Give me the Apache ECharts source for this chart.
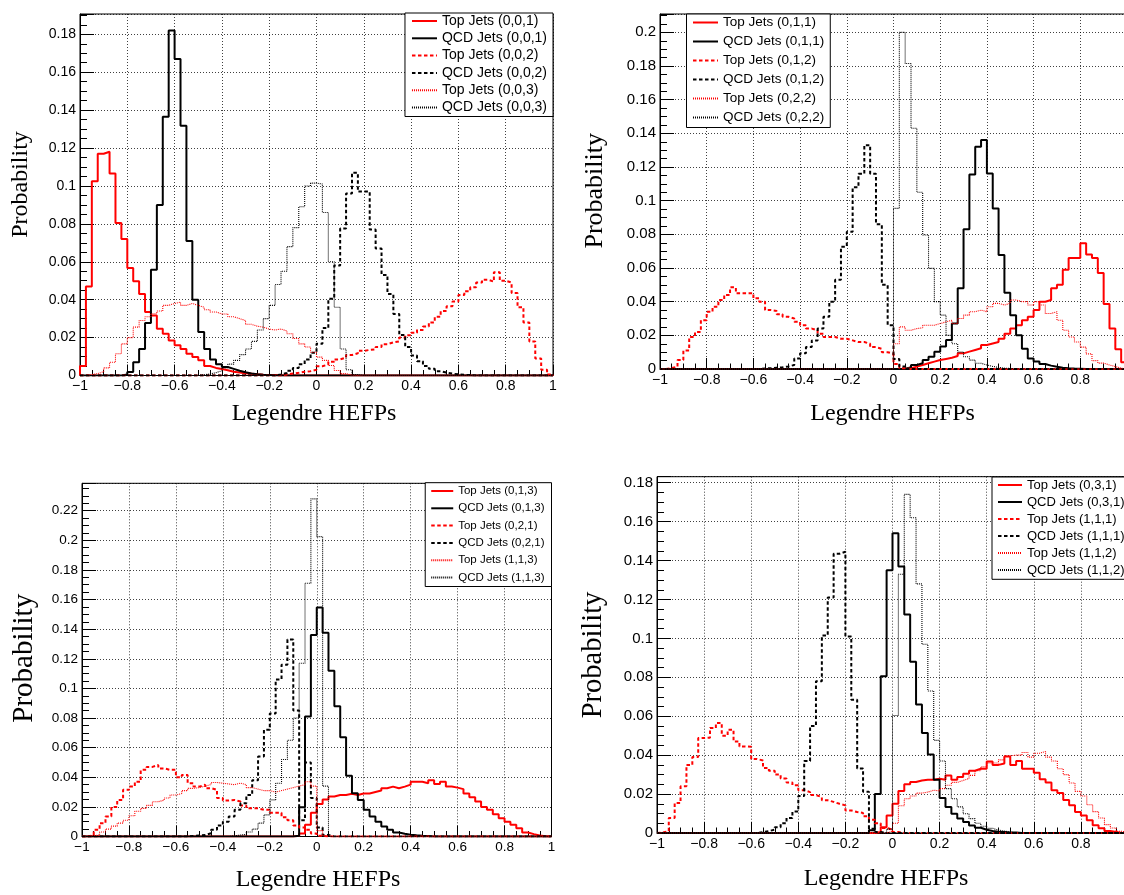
<!DOCTYPE html>
<html><head><meta charset="utf-8">
<script src="https://cdn.jsdelivr.net/npm/echarts@6/dist/echarts.min.js"></script>
<style>html,body{margin:0;padding:0;background:#fff}#c{width:1124px;height:895px}</style>
</head><body><div id="c"></div>
<script>
// ---------- binning (x categories) ----------
const BIN_MIN = -1, BIN_WIDTH = 0.025, N_BINS = 80;
const X_MIN = -1, X_MAX = 1, X_STEP = 0.2, Y_STEP = 0.02;
function hist(firstBin, values) { // empty bins of the histogram are 0
  const h = new Array(N_BINS).fill(0);
  values.forEach((v, i) => { h[firstBin + i] = v; });
  return h;
}
// ---------- panel 1 ----------
const P1_NAMES = ['Top Jets (0,0,1)','QCD Jets (0,0,1)','Top Jets (0,0,2)','QCD Jets (0,0,2)','Top Jets (0,0,3)','QCD Jets (0,0,3)'];
const P1_TOP_001 = hist(0, [0.005,0.047,0.1025,0.117,0.118,0.1065,0.0805,0.072,0.0567,0.0497,0.043,0.0335,0.0317,0.0247,0.022,0.0185,0.016,0.014,0.0115,0.0097,0.008,0.005,0.004,0.0034,0.0028,0.002,0.0016,0.0012,0.0009,0.0006,0.0004,0.0003,0.0002,0.0001]);
const P1_QCD_001 = hist(7, [0.0005,0.0018,0.007,0.014,0.0277,0.0558,0.090,0.1365,0.182,0.167,0.1317,0.071,0.040,0.023,0.014,0.0085,0.006,0.0045,0.0035,0.0025,0.0017,0.0011,0.0007,0.0004,0.0002]);
const P1_TOP_002 = hist(34, [0.0005,0.001,0.0014,0.002,0.0023,0.003,0.0049,0.0058,0.0072,0.0085,0.0094,0.0108,0.0117,0.013,0.0135,0.0138,0.015,0.0165,0.0175,0.018,0.020,0.0212,0.0225,0.024,0.0258,0.028,0.031,0.034,0.0365,0.039,0.0425,0.0445,0.0465,0.049,0.0505,0.0495,0.0545,0.050,0.049,0.0435,0.036,0.028,0.018,0.009,0.003,0.0005]);
const P1_QCD_002 = hist(33, [0.0005,0.0013,0.0025,0.004,0.006,0.0085,0.012,0.0167,0.025,0.0405,0.058,0.0775,0.096,0.107,0.097,0.097,0.077,0.067,0.053,0.043,0.0325,0.0213,0.015,0.0105,0.0075,0.005,0.0035,0.0023,0.0015,0.001,0.0006,0.0004,0.0002]);
const P1_TOP_003 = hist(1, [0.0005,0.001,0.002,0.004,0.007,0.0115,0.0167,0.020,0.0255,0.029,0.031,0.0326,0.034,0.037,0.038,0.0387,0.037,0.038,0.037,0.036,0.0347,0.0335,0.0325,0.0324,0.031,0.030,0.029,0.027,0.026,0.0255,0.0245,0.024,0.0245,0.0235,0.022,0.0195,0.0167,0.015,0.0123,0.0097,0.008,0.0053,0.0026,0.001,0.0003]);
const P1_QCD_003 = hist(20, [0.0004,0.0008,0.0015,0.0025,0.004,0.006,0.008,0.011,0.014,0.018,0.024,0.03,0.037,0.048,0.055,0.068,0.078,0.089,0.1,0.1015,0.101,0.086,0.06,0.036,0.014,0.003,0.0005]);
// ---------- panel 2 ----------
const P2_NAMES = ['Top Jets (0,1,1)','QCD Jets (0,1,1)','Top Jets (0,1,2)','QCD Jets (0,1,2)','Top Jets (0,2,2)','QCD Jets (0,2,2)'];
const P2_TOP_011 = hist(41, [0.0002,0.0005,0.0014,0.0024,0.0034,0.0044,0.0053,0.006,0.0067,0.0077,0.0093,0.0103,0.0113,0.0123,0.0143,0.0152,0.016,0.018,0.021,0.024,0.026,0.029,0.031,0.035,0.040,0.041,0.048,0.050,0.059,0.066,0.066,0.0747,0.068,0.066,0.057,0.0386,0.024,0.0117,0.004]);
const P2_QCD_011 = hist(42, [0.001,0.0024,0.0034,0.0053,0.0073,0.0103,0.0133,0.0172,0.027,0.048,0.083,0.1156,0.132,0.136,0.1162,0.0954,0.0677,0.0453,0.032,0.020,0.012,0.0063,0.0044,0.003,0.002,0.0013,0.0008,0.0005,0.0003,0.0002]);
const P2_TOP_012 = hist(1, [0.0005,0.0014,0.0053,0.011,0.019,0.022,0.029,0.034,0.037,0.041,0.044,0.0485,0.045,0.045,0.045,0.042,0.040,0.035,0.0345,0.0325,0.031,0.030,0.028,0.026,0.024,0.023,0.021,0.019,0.019,0.018,0.018,0.017,0.016,0.016,0.015,0.013,0.012,0.010,0.009,0.003,0.0005]);
const P2_QCD_012 = hist(17, [0.0003,0.0005,0.0008,0.001,0.0015,0.0024,0.0063,0.0093,0.013,0.017,0.024,0.031,0.040,0.053,0.0727,0.0816,0.108,0.116,0.133,0.116,0.086,0.05,0.026,0.006,0.0015]);
const P2_TOP_022 = hist(40, [0.015,0.025,0.023,0.024,0.0245,0.026,0.026,0.027,0.028,0.029,0.027,0.030,0.032,0.034,0.035,0.034,0.037,0.039,0.038,0.039,0.041,0.040,0.040,0.038,0.040,0.038,0.033,0.034,0.029,0.023,0.019,0.016,0.013,0.009,0.005,0.0035,0.0024,0.0014,0.0005]);
const P2_QCD_022 = hist(40, [0.0954,0.2,0.1815,0.143,0.105,0.0796,0.0598,0.040,0.032,0.020,0.015,0.010,0.0073,0.0053,0.0034,0.0024,0.0015,0.001,0.0005,0.0003]);
// ---------- panel 3 ----------
const P3_NAMES = ['Top Jets (0,1,3)','QCD Jets (0,1,3)','Top Jets (0,2,1)','QCD Jets (0,2,1)','Top Jets (1,1,3)','QCD Jets (1,1,3)'];
const P3_TOP_013 = hist(36, [0.0005,0.002,0.008,0.016,0.022,0.025,0.027,0.028,0.028,0.0288,0.028,0.029,0.029,0.030,0.031,0.0326,0.0337,0.0326,0.0337,0.035,0.037,0.037,0.036,0.038,0.0355,0.037,0.0337,0.033,0.032,0.029,0.0265,0.0236,0.020,0.018,0.015,0.0124,0.010,0.0079,0.0056,0.0027,0.0016,0.0007,0.0002]);
const P3_QCD_013 = hist(36, [0.0005,0.0198,0.081,0.136,0.1546,0.1375,0.112,0.088,0.067,0.041,0.0292,0.0247,0.018,0.0135,0.010,0.0067,0.0045,0.0027,0.0018,0.0012,0.0008,0.0005,0.0003]);
const P3_TOP_021 = hist(1, [0.001,0.0045,0.009,0.0135,0.020,0.0247,0.0315,0.0337,0.037,0.045,0.047,0.0483,0.046,0.045,0.045,0.040,0.0416,0.036,0.0337,0.035,0.0326,0.0315,0.026,0.0243,0.0247,0.0236,0.021,0.019,0.019,0.018,0.018,0.016,0.016,0.013,0.011,0.0075,0.006,0.0045,0.002,0.0005]);
const P3_QCD_021 = hist(18, [0.0004,0.0007,0.001,0.0022,0.0045,0.0075,0.010,0.0135,0.018,0.0225,0.028,0.038,0.054,0.072,0.083,0.106,0.116,0.133,0.085,0.011,0.05,0.026,0.006,0.001]);
const P3_TOP_113 = hist(1, [0.0005,0.001,0.003,0.005,0.007,0.009,0.011,0.014,0.017,0.019,0.021,0.0235,0.0245,0.026,0.028,0.029,0.031,0.0325,0.033,0.034,0.035,0.0365,0.036,0.0355,0.035,0.036,0.035,0.033,0.032,0.031,0.031,0.030,0.031,0.032,0.033,0.034,0.035,0.037,0.034,0.004,0.0005]);
const P3_QCD_113 = hist(25, [0.0005,0.001,0.0015,0.003,0.005,0.009,0.0146,0.0247,0.036,0.052,0.065,0.08,0.117,0.171,0.228,0.2025,0.034]);
// ---------- panel 4 ----------
const P4_NAMES = ['Top Jets (0,3,1)','QCD Jets (0,3,1)','Top Jets (1,1,1)','QCD Jets (1,1,1)','Top Jets (1,1,2)','QCD Jets (1,1,2)'];
const P4_TOP_031 = hist(37, [0.0005,0.003,0.009,0.015,0.0216,0.025,0.0262,0.027,0.0274,0.0274,0.0279,0.0274,0.0296,0.0274,0.0288,0.0305,0.032,0.033,0.033,0.0367,0.035,0.0357,0.0393,0.035,0.037,0.033,0.033,0.031,0.0276,0.026,0.022,0.0205,0.017,0.0142,0.0108,0.009,0.0066,0.004,0.0025,0.001,0.0005]);
const P4_QCD_031 = hist(36, [0.0014,0.02,0.0805,0.135,0.154,0.137,0.1123,0.088,0.066,0.0514,0.0404,0.0274,0.018,0.0134,0.0099,0.0074,0.0056,0.0039,0.0027,0.0017,0.001,0.0007,0.0005,0.0003,0.0002]);
const P4_TOP_111 = hist(0, [0.0002,0.0009,0.0077,0.0154,0.024,0.035,0.039,0.0488,0.049,0.054,0.0565,0.050,0.053,0.047,0.0445,0.0443,0.038,0.0373,0.0334,0.032,0.030,0.028,0.026,0.0246,0.022,0.021,0.0195,0.0185,0.0168,0.016,0.015,0.0142,0.0116,0.0108,0.0103,0.0086,0.0068,0.005,0.0026,0.0017,0.0005]);
const P4_QCD_111 = hist(17, [0.0005,0.001,0.0017,0.003,0.005,0.0077,0.011,0.019,0.037,0.055,0.078,0.1015,0.121,0.1435,0.1445,0.101,0.0685,0.0332,0.0212,0.0022,0.0005]);
const P4_TOP_112 = hist(39, [0.001,0.005,0.014,0.0176,0.019,0.0205,0.021,0.022,0.0216,0.0228,0.0245,0.026,0.027,0.028,0.0296,0.032,0.034,0.036,0.036,0.0376,0.0397,0.040,0.040,0.0414,0.039,0.041,0.0419,0.039,0.037,0.033,0.030,0.0257,0.0214,0.019,0.0145,0.011,0.0077,0.0043,0.0026,0.0009,0.0003]);
const P4_QCD_112 = hist(39, [0.002,0.0604,0.133,0.174,0.162,0.128,0.097,0.073,0.0476,0.037,0.0228,0.0176,0.0134,0.0099,0.0074,0.005,0.0035,0.0024,0.0015,0.001,0.0005]);

const X_TITLE = 'Legendre HEFPs', Y_TITLE = 'Probability';

// ---------- layout / styles ----------
const SANS = 'Liberation Sans', SERIF = 'Liberation Serif';
const STYLES = [
  {color:'#ff0000', width:2, type:'solid'},
  {color:'#000000', width:2, type:'solid'},
  {color:'#ff0000', width:2, type:[3.5,2.5]},
  {color:'#000000', width:2, type:[3.5,2.5]},
  {color:'#ff0000', width:1.1, type:[1,1]},
  {color:'#000000', width:1.1, type:[1,1]}
];
const PANELS = [
  {names:P1_NAMES, data:[P1_TOP_001,P1_QCD_001,P1_TOP_002,P1_QCD_002,P1_TOP_003,P1_QCD_003],
   grid:{left:80, top:14, width:473, height:361.5}, ymax:0.1907, yFont:14, xFont:14,
   legend:{right:571, top:13, itemWidth:25, itemHeight:14, itemGap:3.3, padding:[1,6,2,6], fontSize:14},
   ytitle:{x:21, y:184.5, size:24}, xtitle:{x:314, y:414}},
  {names:P2_NAMES, data:[P2_TOP_011,P2_QCD_011,P2_TOP_012,P2_QCD_012,P2_TOP_022,P2_QCD_022],
   grid:{left:660, top:14, width:467, height:355}, ymax:0.2109, yFont:15, xFont:14, hideMaxX:true,
   legend:{left:686.5, top:14, itemWidth:25, itemHeight:14, itemGap:5, padding:[1.5,6,3,5.5], fontSize:13.5},
   ytitle:{x:595, y:190.8, size:26}, xtitle:{x:892.6, y:413.4}},
  {names:P3_NAMES, data:[P3_TOP_013,P3_QCD_013,P3_TOP_021,P3_QCD_021,P3_TOP_113,P3_QCD_113],
   grid:{left:82, top:483.3, width:469.5, height:353.2}, ymax:0.2385, yFont:13.5, xFont:13.5,
   legend:{right:572.5, top:482.7, itemWidth:22, itemHeight:12, itemGap:5.3, padding:[2.3,7,3,5], fontSize:11.5},
   ytitle:{x:24, y:658.3, size:29}, xtitle:{x:318, y:879.3}},
  {names:P4_NAMES, data:[P4_TOP_031,P4_QCD_031,P4_TOP_111,P4_QCD_111,P4_TOP_112,P4_QCD_112],
   grid:{left:657, top:476.7, width:471, height:356.3}, ymax:0.1831, yFont:15, xFont:14, hideMaxX:true,
   legend:{left:992, top:477, itemWidth:24, itemHeight:13, itemGap:4, padding:[1.5,6,2.8,5], fontSize:13},
   ytitle:{x:594, y:655, size:28.5}, xtitle:{x:886, y:878.4}}
];

function steps(h) { // histogram outline through bin edges
  const pts = [[BIN_MIN, 0]];
  for (let i = 0; i < h.length; i++) pts.push([BIN_MIN + i * BIN_WIDTH, h[i]]);
  const xEnd = BIN_MIN + h.length * BIN_WIDTH;
  pts.push([xEnd, h[h.length - 1]]);
  pts.push([xEnd, 0]);
  return pts;
}
function fmtX(v) {
  const r = Math.round(v * 10) / 10;
  if (r === 0) return '0';
  return (r < 0 ? '\u2212' : '') + String(Math.abs(r));
}
function fmtY(v) { return String(parseFloat(v.toFixed(3))); }

const grids = [], xAxes = [], yAxes = [], series = [], legends = [], graphics = [];
PANELS.forEach((p, k) => {
  grids.push(Object.assign({show:true, borderColor:'#000', borderWidth:1, backgroundColor:'transparent',
    containLabel:false, outerBoundsMode:'none'}, p.grid));
  const splitStyle = {show:true, lineStyle:{color:'#000', width:1, type:[1,2], opacity:0.75}};
  xAxes.push({gridIndex:k, type:'value', min:X_MIN, max:X_MAX, interval:X_STEP,
    axisLine:{show:true, onZero:false, lineStyle:{color:'#000', width:1}},
    axisTick:{show:true, inside:true, length:11, lineStyle:{color:'#000', width:1}},
    minorTick:{show:true, splitNumber:4, length:5.5, lineStyle:{color:'#000', width:1}},
    splitLine:splitStyle,
    axisLabel:{show:true, margin:4, color:'#000', fontFamily:SANS, fontSize:p.xFont, formatter:fmtX,
      showMaxLabel: !p.hideMaxX, showMinLabel:true, hideOverlap:false}
  });
  yAxes.push({gridIndex:k, type:'value', min:0, max:p.ymax, interval:Y_STEP,
    axisLine:{show:true, onZero:false, lineStyle:{color:'#000', width:1}},
    axisTick:{show:true, inside:true, length:14, lineStyle:{color:'#000', width:1}},
    minorTick:{show:true, splitNumber:4, length:7, lineStyle:{color:'#000', width:1}},
    splitLine:splitStyle,
    axisLabel:{show:true, margin:4, color:'#000', fontFamily:SANS, fontSize:p.yFont, formatter:fmtY,
      showMaxLabel:false, showMinLabel:true, hideOverlap:false}
  });
  p.data.forEach((h, j) => {
    const st = STYLES[j];
    series.push({type:'line', name:p.names[j], xAxisIndex:k, yAxisIndex:k, step:'end',
      data:steps(h), symbol:'none', showSymbol:false, clip:true, z:2 + j,
      lineStyle:{color:st.color, width:st.width, type:st.type},
      itemStyle:{color:st.color}, emphasis:{disabled:true}, silent:true});
  });
  const L = p.legend;
  const lg = {orient:'vertical', top:L.top, itemWidth:L.itemWidth, itemHeight:L.itemHeight, itemGap:L.itemGap,
    padding:L.padding, backgroundColor:'#fff', borderColor:'#000', borderWidth:1, borderRadius:0,
    selectedMode:false, data:p.names, align:'left', z:10,
    itemStyle:{opacity:0, borderWidth:0},
    textStyle:{fontFamily:SANS, fontSize:L.fontSize, color:'#000'}};
  if (L.right !== undefined) lg.right = L.right; else lg.left = L.left;
  legends.push(lg);
  graphics.push({type:'text', x:p.ytitle.x, y:p.ytitle.y, rotation:Math.PI/2, z:20,
    style:{text:Y_TITLE, fontFamily:SERIF, fontSize:p.ytitle.size, fill:'#000', align:'center', verticalAlign:'middle'}});
  graphics.push({type:'text', x:p.xtitle.x, y:p.xtitle.y, z:20,
    style:{text:X_TITLE, fontFamily:SERIF, fontSize:24, fill:'#000', align:'center', verticalAlign:'middle'}});
});

const chart = echarts.init(document.getElementById('c'), null, {renderer:'canvas', width:1124, height:895});
chart.setOption({
  animation:false, backgroundColor:'#fff',
  grid:grids, xAxis:xAxes, yAxis:yAxes, series:series, legend:legends, graphic:graphics
});
</script></body></html>
